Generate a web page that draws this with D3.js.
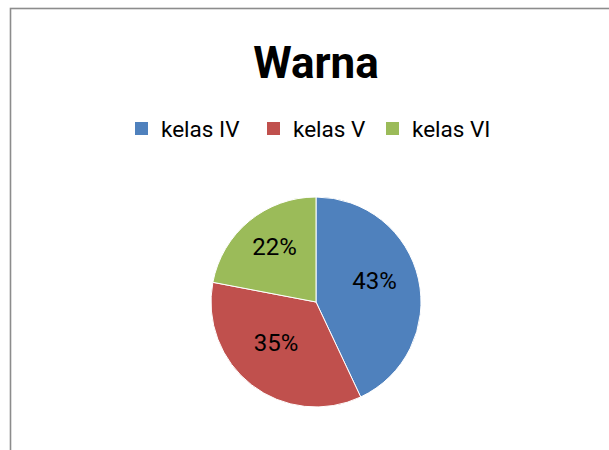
<!DOCTYPE html>
<html>
<head>
<meta charset="utf-8">
<script src="https://cdn.jsdelivr.net/npm/d3@7"></script>
<style>
  html, body { margin: 0; padding: 0; background: #fff; overflow: hidden; }
  text { font-family: Roboto, "Noto Sans", sans-serif; }
</style>
</head>
<body>
<div id="chart"></div>
<script>
(function() {
    var categories = ["kelas IV", "kelas V", "kelas VI"],
        values = [43, 35, 22],
        colors = ["#4F81BD", "#C0504D", "#9BBB59"],
        title = "Warna";

    var width = 609, height = 450;
    var cx = 316, cy = 302, radius = 105;

    var svg = d3.select("#chart")
        .append("svg")
        .attr("width", width)
        .attr("height", height);

    // chart frame, cut off on the right and bottom like the screenshot
    svg.append("rect")
        .attr("x", 10.5)
        .attr("y", 8.5)
        .attr("width", 800)
        .attr("height", 800)
        .attr("fill", "#fff")
        .attr("stroke", "#8c8c8c")
        .attr("stroke-width", 1.6);

    svg.append("text")
        .attr("x", 316)
        .attr("y", 78)
        .attr("text-anchor", "middle")
        .attr("font-weight", "bold")
        .attr("font-size", "44px")
        .attr("fill", "#000")
        .text(title);

    var color = d3.scaleOrdinal().domain(categories).range(colors);

    // legend
    var legendX = [135, 267, 386];
    var legend = svg.selectAll(".legend")
        .data(categories)
        .enter().append("g")
        .attr("class", "legend")
        .attr("transform", function(d, i) { return "translate(" + legendX[i] + ",122)"; });

    legend.append("rect")
        .attr("width", 13)
        .attr("height", 13)
        .attr("fill", function(d) { return color(d); });

    legend.append("text")
        .attr("x", 26)
        .attr("y", 15)
        .attr("font-size", "22.5px")
        .attr("fill", "#000")
        .text(function(d) { return d; });

    var pie = d3.pie().sort(null).value(function(d) { return d.value; });
    var data = categories.map(function(c, i) { return { name: c, value: values[i] }; });

    var arc = d3.arc().innerRadius(0).outerRadius(radius);
    var labelArc = d3.arc().innerRadius(62).outerRadius(62);

    var g = svg.append("g")
        .attr("transform", "translate(" + cx + "," + cy + ")");

    var slices = g.selectAll(".slice")
        .data(pie(data))
        .enter().append("g")
        .attr("class", "slice");

    slices.append("path")
        .attr("d", arc)
        .attr("fill", function(d) { return color(d.data.name); })
        .attr("stroke", "#fff")
        .attr("stroke-width", 1);

    var total = d3.sum(values);
    slices.append("text")
        .attr("transform", function(d) {
            var c = labelArc.centroid(d);
            // labels sit a little up and left of the centroid in the original
            return "translate(" + (c[0] - 2) + "," + (c[1] - 8) + ")";
        })
        .attr("text-anchor", "middle")
        .attr("dy", "0.35em")
        .attr("font-size", "24px")
        .attr("fill", "#000")
        .text(function(d) { return Math.round(d.data.value / total * 100) + "%"; });
})();
</script>
</body>
</html>
